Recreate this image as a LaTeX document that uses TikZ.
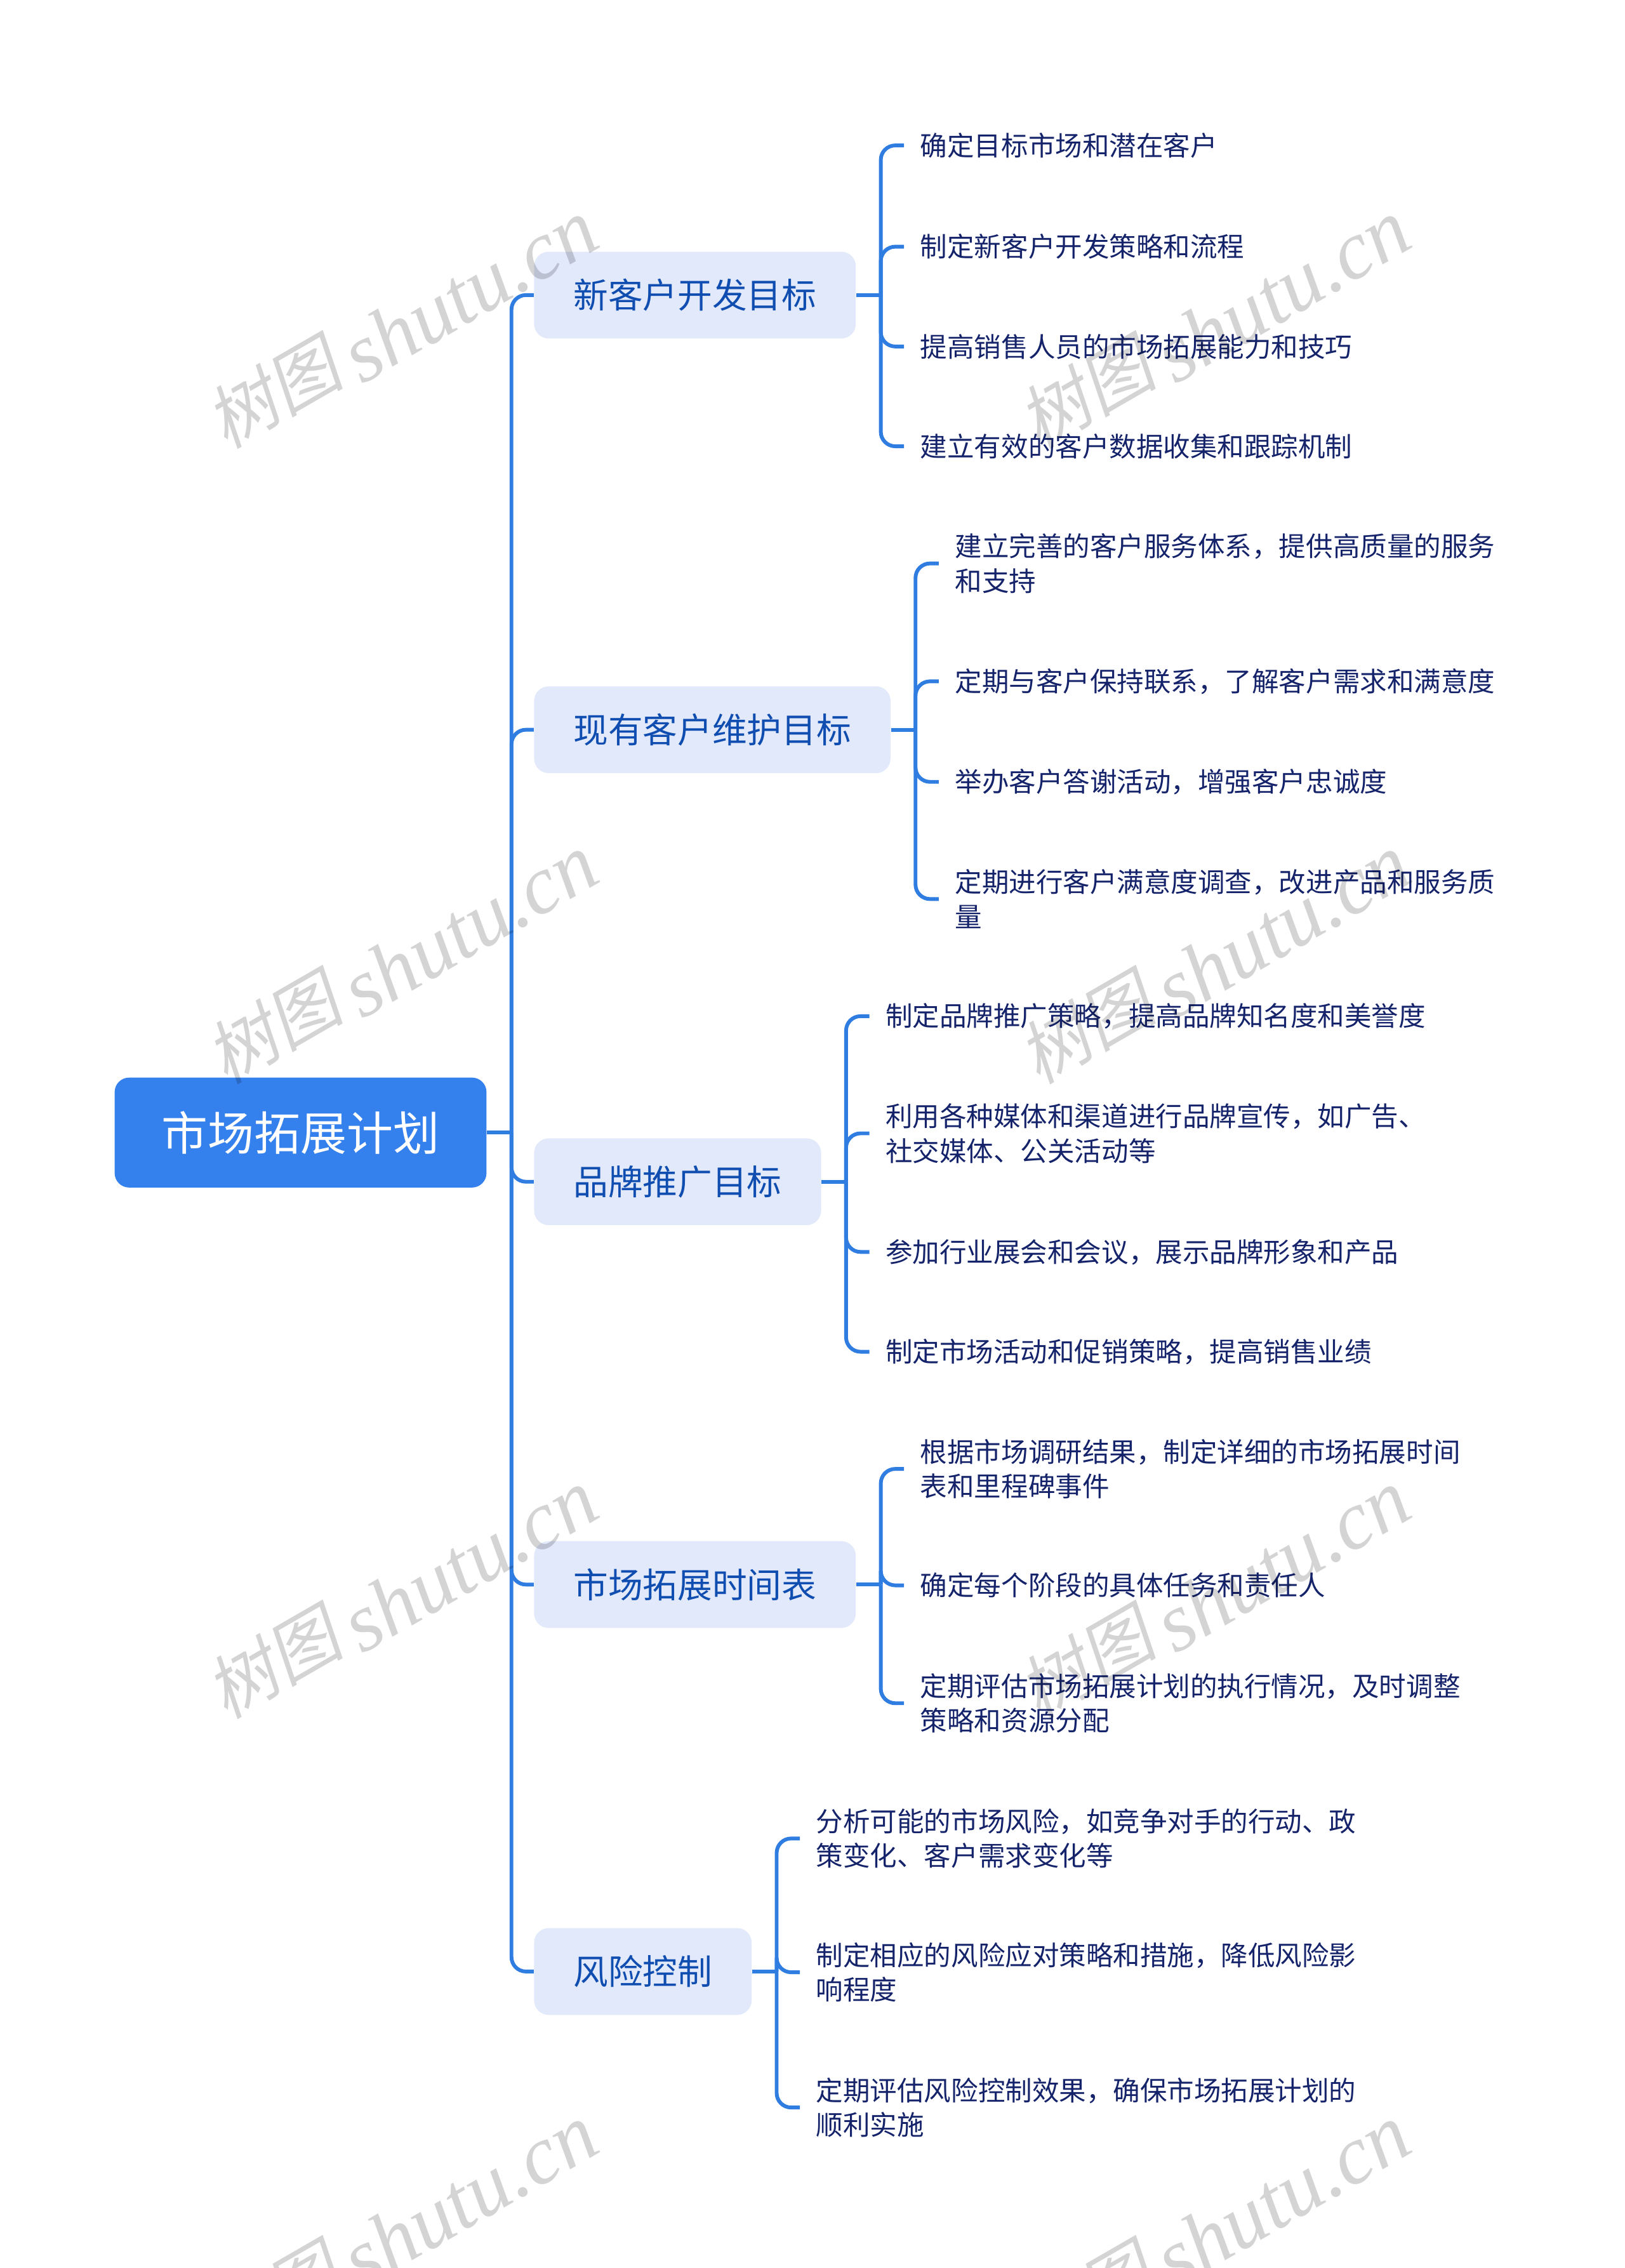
\documentclass[tikz,border=0pt]{standalone}
\usepackage{fontspec}
\setmainfont{Noto Sans CJK SC}
\newfontfamily\wmcjk[FakeSlant=0.2]{Noto Sans CJK SC}
\newfontfamily\wmlatin{Liberation Serif}
\usepackage{tikz}
\definecolor{rootblue}{HTML}{3480EC}
\definecolor{topicfill}{HTML}{E1E9FB}
\definecolor{topictext}{HTML}{0F4DB0}
\definecolor{leaftext}{HTML}{15236B}
\definecolor{connblue}{HTML}{2F7DE1}
\newcommand{\wmtext}{\raisebox{6pt}[0pt][0pt]{\wmcjk\fontsize{36}{40}\selectfont 树图}\hspace{6pt}{\wmlatin\itshape\fontsize{43}{46}\selectfont shutu.cn}}
\tikzset{
  rootbox/.style={fill=rootblue, text=white, rounded corners=7.5pt, anchor=west, inner xsep=24.4pt, inner ysep=0pt, minimum height=57pt, font=\fontsize{24}{28}\selectfont},
  topicbox/.style={fill=topicfill, text=topictext, rounded corners=7.5pt, anchor=west, inner xsep=20.4pt, inner ysep=0pt, minimum height=45pt, font=\fontsize{18}{22}\selectfont},
  leafbox/.style={text=leaftext, anchor=west, align=left, inner xsep=8.25pt, inner ysep=0pt, yshift=-0.4pt, font=\fontsize{14}{18}\selectfont},
  conn/.style={draw=connblue, line width=1.95pt, rounded corners=7.5pt},
  wmark/.style={text=black, text opacity=0.17, rotate=30, anchor=center, inner sep=0pt}
}
\begin{document}
\begin{tikzpicture}[x=0.75pt,y=-0.75pt]
\useasboundingbox (0,0) rectangle (1123.45,1568);
\node[rootbox] (root) at (79,783) {市场拓展计划};
\node[topicbox] (t1) at (369,204) {新客户开发目标};
\node[topicbox] (t2) at (369,504.5) {现有客户维护目标};
\node[topicbox] (t3) at (369,817) {品牌推广目标};
\node[topicbox] (t4) at (369,1095.5) {市场拓展时间表};
\node[topicbox] (t5) at (369,1363) {风险控制};
\node[leafbox] (a1) at (625,100) {确定目标市场和潜在客户};
\node[leafbox] (a2) at (625,170) {制定新客户开发策略和流程};
\node[leafbox] (a3) at (625,239) {提高销售人员的市场拓展能力和技巧};
\node[leafbox] (a4) at (625,308) {建立有效的客户数据收集和跟踪机制};
\node[leafbox] (b1) at (649,389) {建立完善的客户服务体系，提供高质量的服务\\和支持};
\node[leafbox] (b2) at (649,470.5) {定期与客户保持联系，了解客户需求和满意度};
\node[leafbox] (b3) at (649,540) {举办客户答谢活动，增强客户忠诚度};
\node[leafbox] (b4) at (649,621) {定期进行客户满意度调查，改进产品和服务质\\量};
\node[leafbox] (c1) at (601,702) {制定品牌推广策略，提高品牌知名度和美誉度};
\node[leafbox] (c2) at (601,783) {利用各种媒体和渠道进行品牌宣传，如广告、\\社交媒体、公关活动等};
\node[leafbox] (c3) at (601,865) {参加行业展会和会议，展示品牌形象和产品};
\node[leafbox] (c4) at (601,934) {制定市场活动和促销策略，提高销售业绩};
\node[leafbox] (d1) at (625,1015) {根据市场调研结果，制定详细的市场拓展时间\\表和里程碑事件};
\node[leafbox] (d2) at (625,1095.5) {确定每个阶段的具体任务和责任人};
\node[leafbox] (d3) at (625,1177) {定期评估市场拓展计划的执行情况，及时调整\\策略和资源分配};
\node[leafbox] (e1) at (553,1270.5) {分析可能的市场风险，如竞争对手的行动、政\\策变化、客户需求变化等};
\node[leafbox] (e2) at (553,1363) {制定相应的风险应对策略和措施，降低风险影\\响程度};
\node[leafbox] (e3) at (553,1456.5) {定期评估风险控制效果，确保市场拓展计划的\\顺利实施};
\draw[conn] (root.east) -- ++(17,0) coordinate (j0);
\foreach \t in {t1,t2,t3,t4,t5}
  \draw[conn] (j0) |- (\t.west);
\foreach \t/\g/\list in {t1/j1/{a1,a2,a3,a4},t2/j2/{b1,b2,b3,b4},t3/j3/{c1,c2,c3,c4},t4/j4/{d1,d2,d3},t5/j5/{e1,e2,e3}} {
  \draw[conn] (\t.east) -- ++(17,0) coordinate (\g);
  \foreach \l in \list
    \draw[conn] (\g) |- (\l.west);
}
\foreach \r [count=\i] in {227,666,1105,1544} {
  \node[wmark] (wl\i) at (279,\r) {\wmtext};
  \node[wmark] (wr\i) at (841,\r) {\wmtext};
}
\end{tikzpicture}
\end{document}
